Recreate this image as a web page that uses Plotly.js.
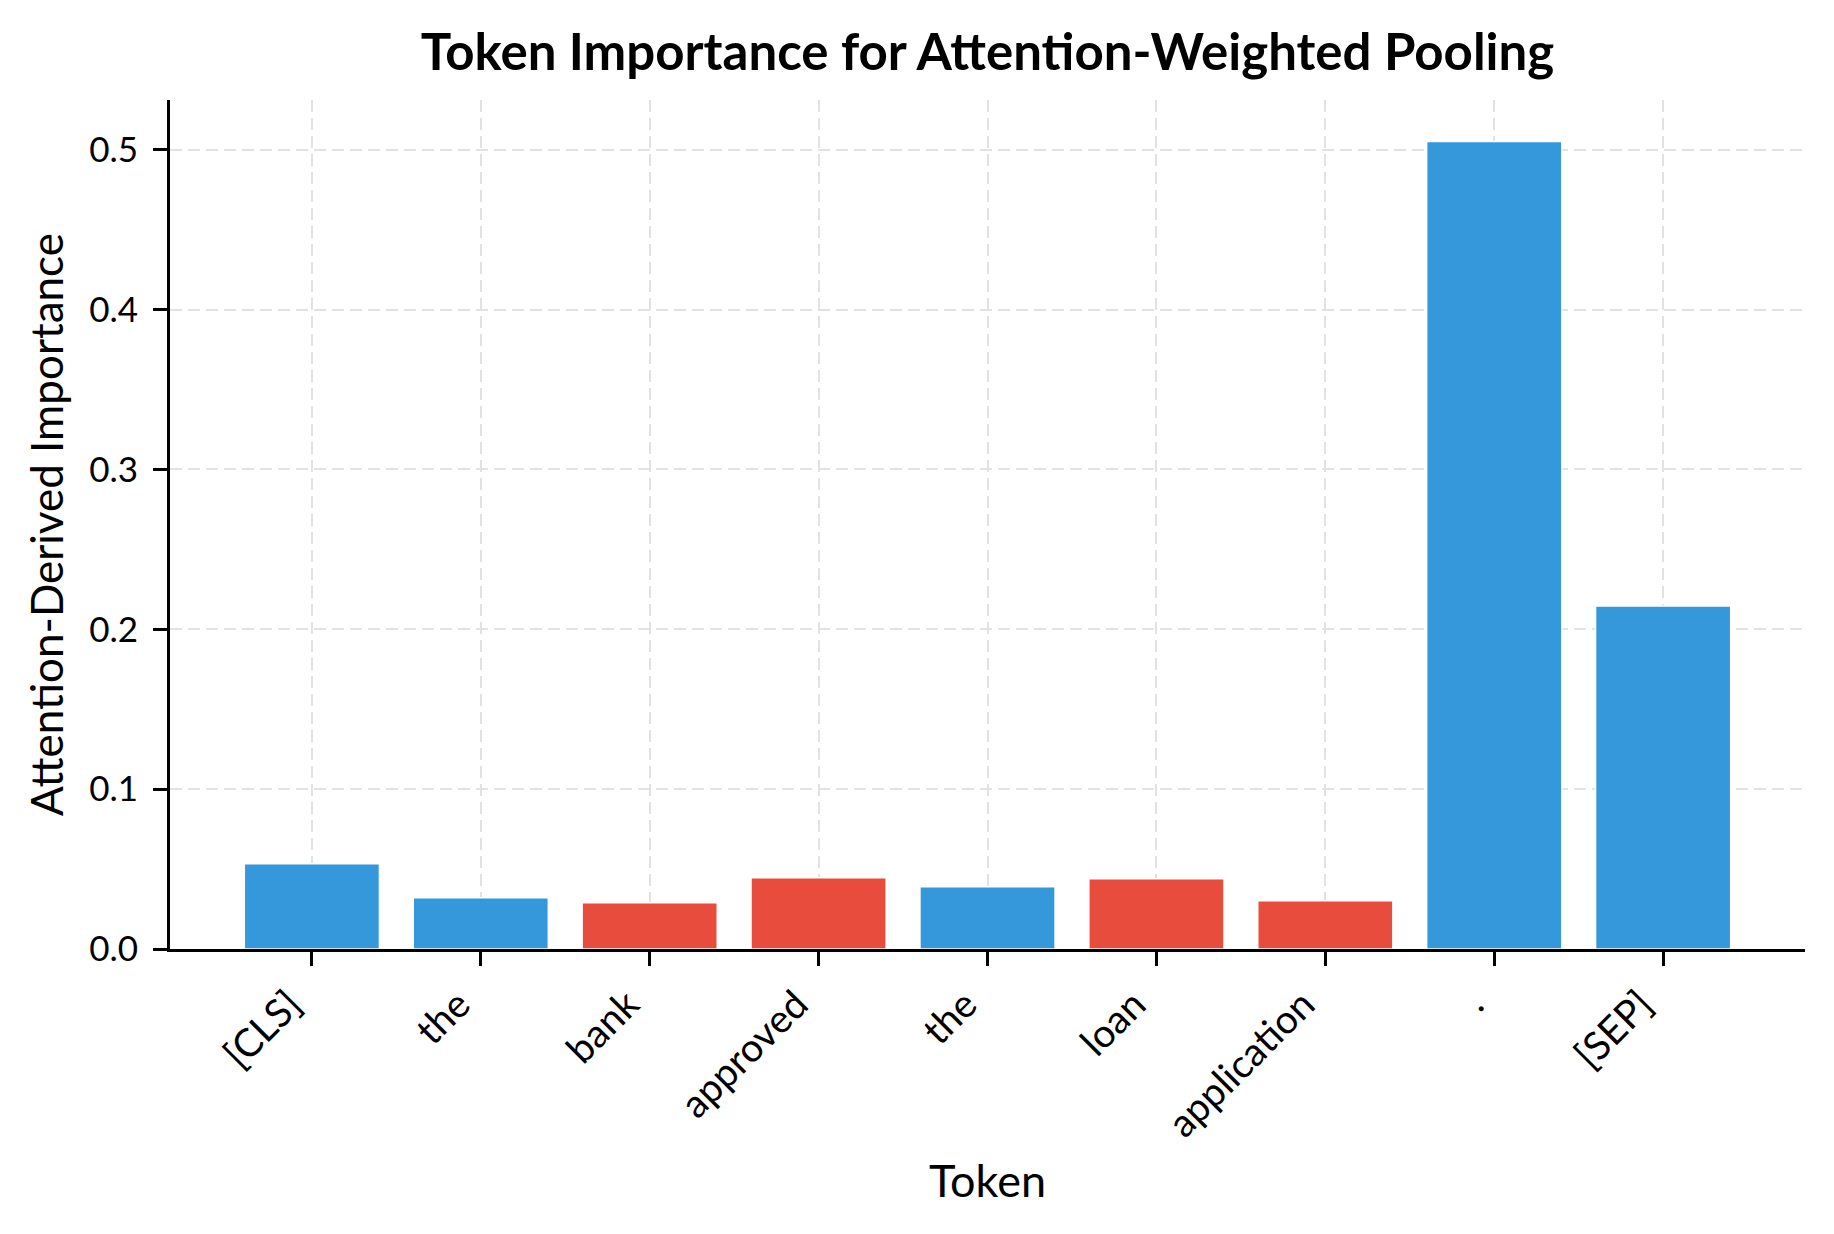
<!DOCTYPE html>
<html>
<head>
<meta charset="utf-8">
<script src="https://cdn.plot.ly/plotly-3.0.1.min.js"></script>
<style>
  body { margin: 0; background: #ffffff; }
  #chart { width: 1834px; height: 1234px; }
</style>
</head>
<body>
<div id="chart"></div>
<script>
// tokens and their attention-derived importance
var tokens = ["[CLS]", "the", "bank", "approved", "the", "loan", "application", ".", "[SEP]"];
var importance = [0.0533, 0.0321, 0.0289, 0.0446, 0.0389, 0.0440, 0.0302, 0.5051, 0.2146];
var barColors = ["#3498db", "#3498db", "#e74c3c", "#e74c3c", "#3498db", "#e74c3c", "#e74c3c", "#3498db", "#3498db"];
var yTicks = [0.0, 0.1, 0.2, 0.3, 0.4, 0.5];
var yTickText = ["0.0", "0.1", "0.2", "0.3", "0.4", "0.5"];

var positions = tokens.map(function(t, i) { return i; });

var trace = {
    type: "bar",
    x: positions,
    y: importance,
    width: 0.8,
    marker: {
        color: barColors,
        line: { color: "#ffffff", width: 1.5 }
    },
    hoverinfo: "skip"
};

var gridStyle = {
    showgrid: true,
    gridcolor: "#e2e2e2",
    gridwidth: 2,
    griddash: "12px,6px"
};

var layout = {
    width: 1834,
    height: 1234,
    margin: { l: 170, r: 29, t: 99.5, b: 284.7 },
    paper_bgcolor: "#ffffff",
    plot_bgcolor: "#ffffff",
    font: { family: "Lato, 'Open Sans', sans-serif", color: "#000000", size: 36 },
    showlegend: false,
    title: {
        text: "<b>Token Importance for Attention-Weighted Pooling</b>",
        font: { size: 51, color: "#000000" },
        x: 0.5, xref: "paper",
        y: 1 - 52 / 1234, yref: "container", yanchor: "middle"
    },
    xaxis: Object.assign({
        range: [-0.84, 8.84],
        tickmode: "array",
        tickvals: positions,
        ticktext: tokens,
        tickangle: -45,
        tickfont: { size: 39 },
        ticks: "outside",
        ticklen: 14,
        tickwidth: 3,
        tickcolor: "#000000",
        ticklabelstandoff: 0,
        ticklabelshift: -22,
        showline: true,
        linecolor: "#000000",
        linewidth: 3,
        zeroline: false,
        automargin: false,
        title: { text: "Token", font: { size: 45 }, standoff: 22 }
    }, gridStyle),
    yaxis: Object.assign({
        range: [0, 0.5311],
        tickmode: "array",
        tickvals: yTicks,
        ticktext: yTickText,
        tickfont: { size: 35 },
        ticks: "outside",
        ticklen: 14,
        tickwidth: 3,
        tickcolor: "#000000",
        ticklabelstandoff: 8,
        showline: true,
        linecolor: "#000000",
        linewidth: 3,
        zeroline: false,
        automargin: false,
        title: { text: "Attention-Derived Importance", font: { size: 44 }, standoff: 12 }
    }, gridStyle)
};

Plotly.newPlot("chart", [trace], layout, { displayModeBar: false, staticPlot: true });
</script>
</body>
</html>
